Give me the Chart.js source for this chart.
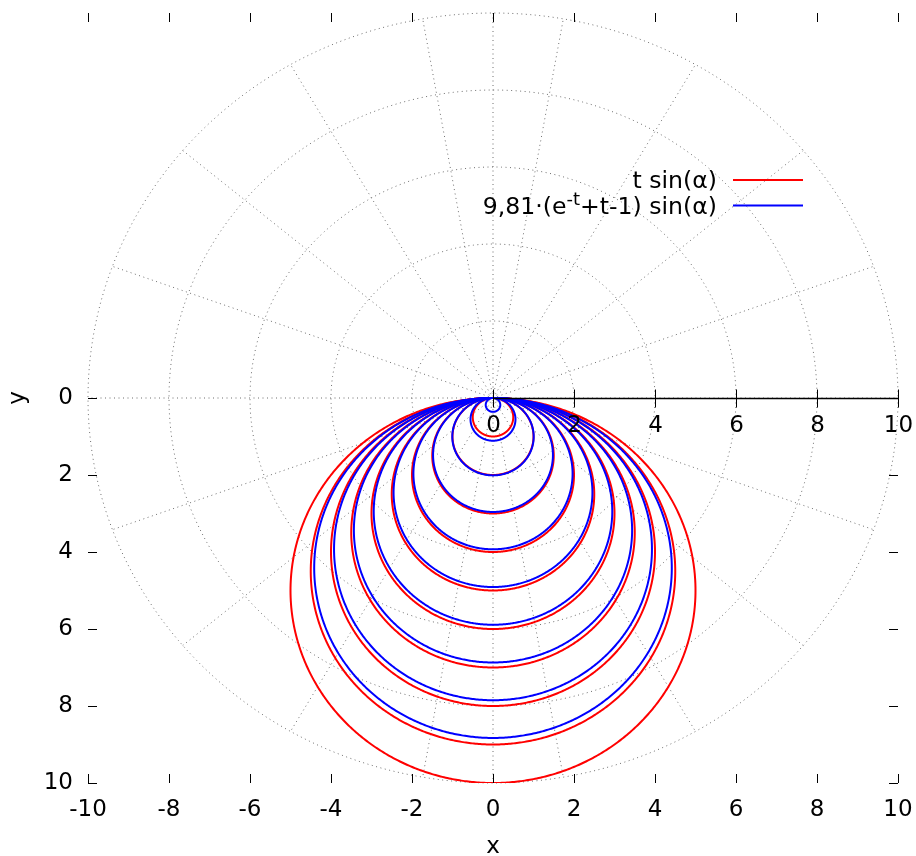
<!DOCTYPE html>
<html>
<head>
<meta charset="utf-8">
<script src="https://cdn.jsdelivr.net/npm/chart.js@4"></script>
<style>
  html, body { margin: 0; padding: 0; background: #fff; }
</style>
</head>
<body>
<canvas id="myChart" width="916" height="856"></canvas>
<script>
// data
const tValues = [1, 2, 3, 4, 5, 6, 7, 8, 9, 10];
const redDiameters = [1, 2, 3, 4, 5, 6, 7, 8, 9, 10];              // t sin(a)
const blueDiameters = [0.36, 1.11, 2.01, 2.96, 3.93, 4.91, 5.89, 6.87, 7.85, 8.83]; // 9,81(e^-t+t-1) sin(a)
const yTickLabels = [0, 2, 4, 6, 8, 10];
const rTicks = [0, 2, 4, 6, 8, 10];
const gridRadii = [2, 4, 6, 8, 10];
const spokeAngles = [0, 20, 40, 60, 80, 100, 120, 140, 160, 180, 200, 220, 240, 260, 280, 300, 320, 340];
const legendLabels = ['t sin(α)', '9,81·(e-t+t-1) sin(α)'];

const FONT = '"DejaVu Sans", sans-serif';
const RED = '#ff0000';
const BLUE = '#0000ff';

// polar curve r = d sin(a), a in [0, pi]
function polarCircle(d) {
  const pts = [];
  const n = 360;
  for (let i = 0; i <= n; i++) {
    const a = Math.PI * i / n;
    const r = d * Math.sin(a);
    pts.push({ x: r * Math.cos(a), y: r * Math.sin(a) });
  }
  return pts;
}

// tiny tension keeps chart.js off its per-pixel fast path, which breaks curves that turn back in x
const lineStyle = { borderWidth: 2, showLine: true, pointRadius: 0, fill: false, tension: 0.001 };
const datasets = [];
// blue first so it is drawn on top
blueDiameters.forEach((d, i) => {
  datasets.push(Object.assign({ label: 'blue t=' + tValues[i], data: polarCircle(d), borderColor: BLUE }, lineStyle));
});
redDiameters.forEach((d, i) => {
  datasets.push(Object.assign({ label: 'red t=' + tValues[i], data: polarCircle(d), borderColor: RED }, lineStyle));
});

const polarDecor = {
  id: 'polarDecor',
  beforeDatasetsDraw(chart) {
    const { ctx } = chart;
    const x = chart.scales.x, y = chart.scales.y;
    ctx.save();
    ctx.strokeStyle = '#6e6e6e';
    ctx.lineWidth = 1;
    ctx.setLineDash([1, 3.5]);
    // rings
    gridRadii.forEach(r => {
      ctx.beginPath();
      for (let i = 0; i <= 360; i++) {
        const a = i * Math.PI / 180;
        const px = x.getPixelForValue(r * Math.cos(a));
        const py = y.getPixelForValue(r * Math.sin(a));
        if (i === 0) ctx.moveTo(px, py); else ctx.lineTo(px, py);
      }
      ctx.stroke();
    });
    // spokes
    const rMax = gridRadii[gridRadii.length - 1];
    spokeAngles.forEach(deg => {
      const a = deg * Math.PI / 180;
      ctx.beginPath();
      ctx.moveTo(x.getPixelForValue(0), y.getPixelForValue(0));
      ctx.lineTo(x.getPixelForValue(rMax * Math.cos(a)), y.getPixelForValue(rMax * Math.sin(a)));
      ctx.stroke();
    });
    // vertical zero line
    ctx.beginPath();
    ctx.moveTo(x.getPixelForValue(0), y.getPixelForValue(-rMax));
    ctx.lineTo(x.getPixelForValue(0), y.getPixelForValue(rMax));
    ctx.stroke();
    ctx.restore();
  },
  afterDatasetsDraw(chart) {
    const { ctx, chartArea } = chart;
    const x = chart.scales.x, y = chart.scales.y;
    ctx.save();
    ctx.strokeStyle = '#000';
    ctx.fillStyle = '#000';
    ctx.setLineDash([]);
    ctx.lineWidth = 1;
    const tick = 9;
    // border ticks, pointing inward
    x.ticks.forEach(t => {
      const px = Math.round(x.getPixelForValue(t.value)) + 0.5;
      ctx.beginPath();
      ctx.moveTo(px, chartArea.bottom); ctx.lineTo(px, chartArea.bottom - tick);
      ctx.moveTo(px, chartArea.top); ctx.lineTo(px, chartArea.top + tick);
      ctx.stroke();
    });
    yTickLabels.forEach(v => {
      const py = Math.round(y.getPixelForValue(v)) + 0.5;
      ctx.beginPath();
      ctx.moveTo(chartArea.left, py); ctx.lineTo(chartArea.left + tick, py);
      ctx.moveTo(chartArea.right, py); ctx.lineTo(chartArea.right - tick, py);
      ctx.stroke();
    });
    // r axis
    const y0 = Math.round(y.getPixelForValue(0)) + 0.5;
    ctx.lineWidth = 1.5;
    ctx.beginPath();
    ctx.moveTo(x.getPixelForValue(0), y0);
    ctx.lineTo(x.getPixelForValue(rTicks[rTicks.length - 1]), y0);
    ctx.stroke();
    ctx.lineWidth = 1;
    ctx.font = '23px ' + FONT;
    ctx.textAlign = 'center';
    ctx.textBaseline = 'alphabetic';
    rTicks.forEach(v => {
      const px = Math.round(x.getPixelForValue(v)) + 0.5;
      ctx.beginPath();
      ctx.moveTo(px, y0 - tick); ctx.lineTo(px, y0 + tick);
      ctx.stroke();
      ctx.fillText(String(v), px, y0 + 33);
    });
    ctx.restore();
  },
  afterDraw(chart) {
    const { ctx } = chart;
    ctx.save();
    const right = 717, lx0 = 733, lx1 = 803;
    const rows = [180, 205.5];
    const main = '23.6px ' + FONT, sup = '18px ' + FONT;
    // entry 1
    ctx.font = main;
    ctx.fillStyle = '#000';
    ctx.textBaseline = 'alphabetic';
    ctx.textAlign = 'right';
    ctx.fillText(legendLabels[0], right, rows[0] + 8);
    // entry 2 with superscript
    const parts = [
      { s: '9,81·(e', f: main, dy: 0 },
      { s: '-t', f: sup, dy: -9 },
      { s: '+t-1) sin(α)', f: main, dy: 0 }
    ];
    let w = 0;
    parts.forEach(p => { ctx.font = p.f; w += ctx.measureText(p.s).width; });
    let cx = right - w;
    ctx.textAlign = 'left';
    parts.forEach(p => {
      ctx.font = p.f;
      ctx.fillText(p.s, cx, rows[1] + 8 + p.dy);
      cx += ctx.measureText(p.s).width;
    });
    ctx.lineWidth = 2;
    ctx.strokeStyle = RED;
    ctx.beginPath(); ctx.moveTo(lx0, rows[0]); ctx.lineTo(lx1, rows[0]); ctx.stroke();
    ctx.strokeStyle = BLUE;
    ctx.beginPath(); ctx.moveTo(lx0, rows[1]); ctx.lineTo(lx1, rows[1]); ctx.stroke();
    ctx.restore();
  }
};

const config = {
  type: 'scatter',
  data: { datasets: datasets },
  options: {
    responsive: false,
    animation: false,
    layout: { padding: { top: 13, right: 18, bottom: 0, left: 0 } },
    plugins: { legend: { display: false }, tooltip: { enabled: false } },
    scales: {
      x: {
        type: 'linear', position: 'bottom', min: -10, max: 10,
        ticks: { stepSize: 2, autoSkip: false, maxRotation: 0, padding: 13, color: '#000',
                 font: { family: FONT, size: 23 }, callback: v => String(v) },
        grid: { display: false, drawTicks: false },
        border: { display: false },
        title: { display: true, text: 'x', color: '#000', padding: { top: 0, bottom: -3 }, font: { family: FONT, size: 23, lineHeight: 1 } },
        afterFit: s => { s.height = 73; s.paddingLeft = 0; s.paddingRight = 0; }
      },
      y: {
        type: 'linear', position: 'left', reverse: true, min: -10, max: 10,
        ticks: { stepSize: 2, autoSkip: false, padding: 15, color: '#000',
                 font: { family: FONT, size: 23 }, callback: v => (v >= 0 ? String(v) : null) },
        grid: { display: false, drawTicks: false },
        border: { display: false },
        title: { display: true, text: 'y', color: '#000', padding: { top: 6.5, bottom: 0 }, font: { family: FONT, size: 23, lineHeight: 1 } },
        afterFit: s => { s.width = 88; s.paddingTop = 0; s.paddingBottom = 0; }
      }
    }
  },
  plugins: [polarDecor]
};

const myChart = new Chart(document.getElementById('myChart'), config);
</script>
</body>
</html>
